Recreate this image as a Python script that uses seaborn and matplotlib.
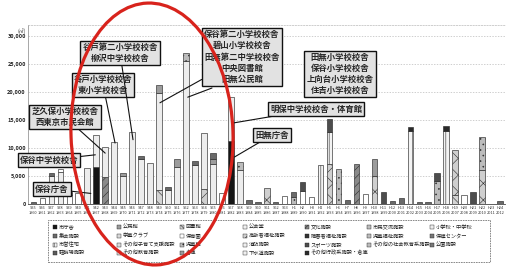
import numpy as np
import pandas as pd
import matplotlib
matplotlib.use("Agg")
import matplotlib.pyplot as plt
from matplotlib.patches import Ellipse, Rectangle
import seaborn as sns

# ---------------- data ----------------
years = list(range(1960, 2013))          # 53 construction years
era_labels = [f"S{y-1925}" if y < 1989 else f"H{y-1988}" for y in years]

n = len(years)
def series(d):
    return [d.get(i, 0) for i in range(n)]

city_hall   = series({7: 6500, 22: 11200})
culture     = series({8: 4700, 36: 7100})
library     = series({14: 2500, 47: 1600})
elderly     = series({19: 2600, 26: 2800, 33: 7000, 38: 5000, 47: 8000, 50: 6000})
schools     = series({2: 5000, 3: 5600, 6: 6400, 7: 5800, 8: 5400, 9: 11000, 10: 5000,
                      11: 12800, 12: 8000, 13: 7200, 14: 17200, 15: 2500, 16: 6500,
                      17: 25500, 18: 6900, 19: 10000, 20: 7000, 22: 7900, 23: 5900})
housing     = series({32: 6900, 33: 5800, 42: 13000, 46: 12900})
children    = series({17: 1400, 23: 1500, 29: 1200, 34: 6200, 45: 4000, 50: 5900})
nursery     = series({1: 1000, 3: 500, 4: 1500, 5: 1900, 21: 1900, 28: 1300, 30: 2300,
                      31: 1200, 37: 1700, 48: 1600})
sports      = series({30: 1500, 33: 2300, 39: 2100, 45: 1500, 49: 2100})
community   = series({10: 500, 14: 1500, 16: 1500, 20: 1000, 38: 3000})
meeting     = series({0: 300, 2: 400, 4: 600, 12: 500, 15: 500, 18: 700, 20: 1000, 24: 600,
                      25: 300, 27: 300, 29: 800, 35: 600, 40: 500, 41: 900, 43: 300,
                      44: 300, 52: 400})
other_admin = series({42: 700, 46: 1000})

# bottom -> top
stack = [
    ("市庁舎", city_hall, "#151515", None),
    ("文化施設", culture, "#8a8a8a", "////"),
    ("図書館", library, "#d4d4d4", "\\\\\\"),
    ("高齢者福祉施設", elderly, "#cfcfcf", "xx"),
    ("小学校・中学校", schools, "#ededed", None),
    ("市営住宅", housing, "#f3f3f3", "||"),
    ("児童館", children, "#bcbcbc", "..."),
    ("保育園", nursery, "#ffffff", None),
    ("スポーツ施設", sports, "#4d4d4d", None),
    ("公民館", community, "#9c9c9c", None),
    ("集会施設", meeting, "#6a6a6a", None),
    ("その他行政系施設・倉庫", other_admin, "#2a2a2a", None),
]

legend_labels = [
    "市庁舎", "公民館", "図書館", "公会堂", "文化施設", "市民交流施設", "小学校・中学校",
    "集会施設", "学童クラブ", "保育園", "高齢者福祉施設", "障害者福祉施設", "児童福祉施設", "保健センター",
    "市営住宅", "その他子育て支援施設", "児童館", "消防施設", "スポーツ施設", "その他の社会教育系施設", "公園施設",
    "駐輪場施設", "その他教育施設", "倉庫", "下水道施設", "その他行政系施設・倉庫",
]

y_ticks = [0, 5000, 10000, 15000, 20000, 25000, 30000]
y_tick_labels = ["0", "5,000", "10,000", "15,000", "20,000", "25,000", "30,000"]

# ---------------- figure ----------------
sns.set_theme(style="white")
plt.rcParams["font.family"] = ["Noto Sans CJK JP", "DejaVu Sans"]
plt.rcParams["hatch.linewidth"] = 0.4

W, H = 508, 267
fig = plt.figure(figsize=(W / 100, H / 100), dpi=100)
fig.patch.set_facecolor("white")
ax = fig.add_axes([28 / W, 1 - 203.5 / H, (505 - 28) / W, (203.5 - 25) / H])

rows = []
for name, vals, _, _ in stack:
    for i, v in enumerate(vals):
        rows.append({"idx": i, "cat": name, "area": v})
df = pd.DataFrame(rows)
order = [s[0] for s in stack][::-1]     # seaborn stacks the first hue level on top
palette = {s[0]: s[2] for s in stack}

sns.histplot(data=df, x="idx", weights="area", hue="cat", hue_order=order,
             multiple="stack", discrete=True, shrink=0.62, palette=palette,
             alpha=1, edgecolor="#2b2b2b", linewidth=0.45, legend=False, ax=ax)

hatch_map = {matplotlib.colors.to_hex(s[2]): s[3] for s in stack}
for p in ax.patches:
    if p.get_height() <= 0:
        p.set_visible(False)
        continue
    h = hatch_map.get(matplotlib.colors.to_hex(p.get_facecolor()))
    if h:
        p.set_hatch(h)

ax.set_xlim(-0.6, n - 0.45)
ax.set_ylim(0, 31900)
ax.set_yticks(y_ticks)
ax.set_yticklabels(y_tick_labels, fontsize=4, fontweight="bold", color="#222")
ax.set_xticks(range(n))
ax.set_xticklabels([f"{e}\n{y}" for e, y in zip(era_labels, years)], fontsize=2.8,
                   color="#333", linespacing=1.6)
ax.tick_params(axis="both", length=0, pad=1.5)
ax.set_xlabel("")
ax.set_ylabel("")
ax.grid(axis="y", color="#bbbbbb", linestyle=(0, (2, 2)), linewidth=0.5)
ax.set_axisbelow(True)
ax.spines["right"].set_visible(False)
ax.spines["top"].set_color("#bbbbbb")
ax.spines["top"].set_linestyle((0, (2, 2)))
ax.spines["top"].set_linewidth(0.5)
ax.spines["left"].set_color("#999999")
ax.spines["left"].set_linewidth(0.6)
ax.spines["bottom"].set_color("#444444")
ax.spines["bottom"].set_linewidth(0.6)
fig.text(22 / W, 1 - 31 / H, "(㎡)", fontsize=3.5, ha="center", va="center", color="#333")

# ---------------- annotations ----------------
box = dict(boxstyle="square,pad=0.25", fc="#e2e2e2", ec="#111111", lw=1.0)
arr = dict(arrowstyle="-", lw=0.8, color="#111111", shrinkA=0, shrinkB=0)
notes = [
    ("保谷庁舎", (6.4, 1800), (52, 189)),
    ("保谷中学校校舎", (6.9, 8700), (49, 160)),
    ("芝久保小学校校舎\n西東京市民会館", (8.0, 9000), (65, 117)),
    ("谷戸小学校校舎\n東小学校校舎", (9.1, 10800), (103, 85)),
    ("谷戸第二小学校校舎\n柳沢中学校校舎", (11.1, 11400), (120, 53)),
    ("保谷第二小学校校舎\n碧山小学校校舎\n田無第二中学校校舎\n中央図書館\n田無公民館", (14.1, 18000), (242, 57)),
    ("田無小学校校舎\n保谷小学校校舎\n上向台小学校校舎\n住吉小学校校舎", None, (340, 74)),
    ("明保中学校校舎・体育館", (22.3, 14400), (316, 109)),
    ("田無庁舎", (22.4, 8300), (272, 135)),
]
for txt, target, (cx, cy) in notes:
    if target is None:
        fig.text(cx / W, 1 - cy / H, txt, fontsize=6, fontweight="bold", ha="center",
                 va="center", linespacing=1.3, bbox=box, zorder=5)
    else:
        ax.annotate(txt, xy=target, xycoords="data", xytext=(cx, H - cy),
                    textcoords="figure pixels", ha="center", va="center", fontsize=6,
                    fontweight="bold", linespacing=1.3, bbox=box, arrowprops=arr,
                    annotation_clip=False, zorder=5)
# second leader from the large box to the tallest bar
ax.annotate("", xy=(17.2, 19000), xycoords="data", xytext=(212, H - 88),
            textcoords="figure pixels", arrowprops=arr, annotation_clip=False)

# ---------------- legend (manual grid) ----------------
fig.add_artist(Rectangle((48 / W, 1 - 262 / H), 442 / W, 42 / H, transform=fig.transFigure,
                         fill=False, ec="#777777", lw=0.6, ls=(0, (2, 1))))
legend_colors = {s[0]: (s[2], s[3]) for s in stack}
col_x = [53, 117, 180, 243, 305, 367, 430]
row_y = [227, 236, 244.5, 253]
gray_cycle = ["#5a5a5a", "#d9d9d9", "#9a9a9a", "#f0f0f0", "#333333", "#bdbdbd", "#777777"]
for k, lab in enumerate(legend_labels):
    r, c = divmod(k, 7)
    fc, ht = legend_colors.get(lab, (gray_cycle[k % len(gray_cycle)], None))
    x0, y0 = col_x[c], row_y[r]
    fig.add_artist(Rectangle((x0 / W, 1 - (y0 + 2) / H), 4 / W, 4 / H, transform=fig.transFigure,
                             fc=fc, ec="#222222", lw=0.3, hatch=ht))
    fig.text((x0 + 5.5) / W, 1 - y0 / H, lab, fontsize=3.8, ha="left", va="center", color="#222")

# ---------------- red hand-drawn ellipse ----------------
fig.add_artist(Ellipse((1.52, 1.33), 1.62, 2.62, angle=2, transform=fig.dpi_scale_trans,
                       fill=False, ec="#d8231c", lw=2.3, zorder=10))

fig.savefig("out.png", dpi=100, facecolor="white")
